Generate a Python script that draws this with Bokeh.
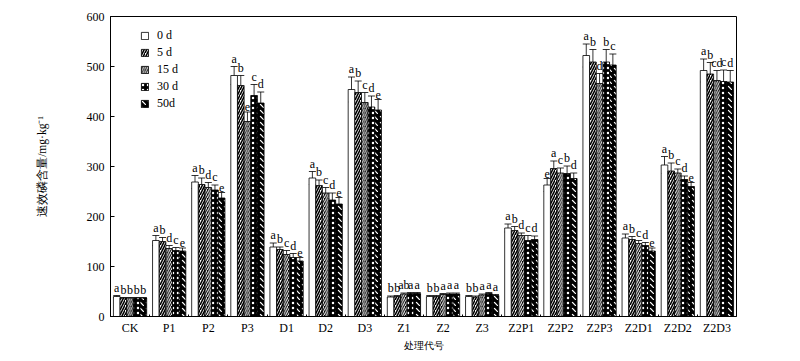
import numpy as np
from bokeh.plotting import figure
from bokeh.models import ColumnDataSource, Whisker, TeeHead, FixedTicker, Range1d
from bokeh.core.properties import value
from bokeh.embed import file_html
from bokeh.resources import INLINE

categories = ["CK", "P1", "P2", "P3", "D1", "D2", "D3", "Z1", "Z2", "Z3",
              "Z2P1", "Z2P2", "Z2P3", "Z2D1", "Z2D2", "Z2D3"]
series = ["0 d", "5 d", "15 d", "30 d", "50d"]

v_0d = [40, 152, 269, 482, 139, 277, 454, 39, 40, 40, 177, 263, 522, 157, 303, 492]
v_5d = [37, 150, 264, 462, 134, 262, 448, 40, 40, 39, 172, 296, 509, 154, 291, 485]
v_15d = [37, 136, 258, 390, 124, 247, 428, 45, 44, 43, 162, 287, 466, 146, 287, 472]
v_30d = [37, 132, 253, 442, 118, 233, 419, 46, 45, 46, 152, 286, 509, 142, 274, 470]
v_50d = [37, 131, 237, 427, 111, 225, 413, 46, 45, 42, 154, 276, 503, 131, 260, 469]

e_0d = [2, 10, 13, 18, 8, 13, 25, 2, 2, 2, 8, 13, 23, 8, 17, 23]
e_5d = [1, 8, 13, 20, 5, 11, 23, 2, 2, 2, 8, 15, 25, 6, 16, 23]
e_15d = [1, 6, 10, 19, 8, 11, 20, 2, 2, 2, 5, 10, 20, 6, 8, 20]
e_30d = [1, 6, 10, 22, 8, 14, 22, 2, 2, 2, 10, 15, 25, 6, 7, 23]
e_50d = [1, 6, 11, 22, 7, 13, 21, 2, 2, 2, 7, 11, 22, 6, 8, 23]

l_0d = ["a", "a", "a", "a", "a", "a", "a", "b", "b", "b", "a", "e", "a", "a", "a", "a"]
l_5d = ["b", "b", "b", "b", "b", "b", "b", "b", "b", "b", "b", "a", "b", "b", "b", "b"]
l_15d = ["b", "d", "d", "e", "c", "c", "c", "ab", "a", "a", "d", "c", "d", "c", "c", "cd"]
l_30d = ["b", "c", "c", "c", "d", "d", "d", "a", "a", "a", "c", "b", "b", "d", "d", "c"]
l_50d = ["b", "e", "e", "d", "e", "e", "e", "a", "a", "a", "d", "d", "c", "e", "e", "d"]

y_ticks = [0, 100, 200, 300, 400, 500, 600]

values = [v_0d, v_5d, v_15d, v_30d, v_50d]
errors = [e_0d, e_5d, e_15d, e_30d, e_50d]
letters = [l_0d, l_5d, l_15d, l_30d, l_50d]

styles = [
    dict(fill_color="white", hatch_pattern=None),
    dict(fill_color="white", hatch_pattern="right_diagonal_line", hatch_color="black", hatch_weight=1.6, hatch_scale=5),
    dict(fill_color="black", hatch_pattern="right_diagonal_line", hatch_color="white", hatch_weight=1.0, hatch_scale=4.5),
    dict(fill_color="black", hatch_pattern="dot", hatch_color="white", hatch_weight=1, hatch_scale=5),
    dict(fill_color="black", hatch_pattern="left_diagonal_dash", hatch_color="white", hatch_weight=1.2, hatch_scale=6),
]

SERIF = "Liberation Serif"
bw = 0.17
n = len(categories)
idx = np.arange(n)

p = figure(width=792, height=353, output_backend="svg", toolbar_location=None,
           x_range=Range1d(-0.5, n - 0.5), y_range=Range1d(0, 600),
           min_border_left=110, min_border_right=56, min_border_top=16, min_border_bottom=30)
p.grid.visible = False
p.outline_line_color = "black"
p.outline_line_width = 1
p.background_fill_color = "white"
p.border_fill_color = "white"

for k, name in enumerate(series):
    xs = idx + (k - 2) * bw
    vals = np.array(values[k], dtype=float)
    errs = np.array(errors[k], dtype=float)
    src = ColumnDataSource(dict(x=xs, top=vals, upper=vals + errs, lower=vals - errs,
                                lab=letters[k]))
    st = styles[k]
    kw = dict(x="x", top="top", width=bw, bottom=0, source=src, line_color="black",
              line_width=0.8, fill_color=st["fill_color"], legend_label=name)
    if st["hatch_pattern"]:
        kw.update(hatch_pattern=st["hatch_pattern"], hatch_color=st["hatch_color"],
                  hatch_weight=st["hatch_weight"], hatch_scale=st["hatch_scale"])
    p.vbar(**kw)
    w = Whisker(base="x", upper="upper", lower="lower", source=src, line_color="black",
                line_width=0.8,
                upper_head=TeeHead(size=7, line_color="black", line_width=0.8),
                lower_head=TeeHead(size=7, line_color="black", line_width=0.8))
    p.add_layout(w)
    p.text(x="x", y="upper", text="lab", source=src, text_align="center",
           text_baseline="bottom", text_font=value(SERIF), text_font_size="12px",
           text_color="black", y_offset=-1)

# axes
xt = FixedTicker(ticks=list(range(n)), minor_ticks=[i + 0.5 for i in range(n - 1)])
p.xaxis.ticker = xt
p.xaxis.major_label_overrides = {i: c for i, c in enumerate(categories)}
p.xaxis.major_tick_line_color = None
p.xaxis.major_tick_in = 0
p.xaxis.major_tick_out = 0
p.xaxis.minor_tick_in = 2
p.xaxis.minor_tick_out = 0
p.xaxis.axis_label = "处理代号"
p.yaxis.ticker = FixedTicker(ticks=y_ticks)
p.yaxis.minor_tick_line_color = None
p.yaxis.major_tick_in = 4
p.yaxis.major_tick_out = 0
p.yaxis.axis_label = "速效磷含量/mg·kg⁻¹"
for ax in (p.xaxis[0], p.yaxis[0]):
    ax.major_label_text_font = SERIF
    ax.major_label_text_font_size = "12px"
    ax.major_label_text_color = "black"
    ax.axis_label_text_font = SERIF
    ax.axis_label_text_font_style = "normal"
    ax.axis_label_text_color = "black"
    ax.axis_line_color = "black"
p.xaxis.axis_label_text_font_size = "10px"
p.yaxis.axis_label_text_font_size = "11.5px"
p.xaxis.major_label_standoff = 4
p.xaxis.axis_label_standoff = 2
p.yaxis.major_label_standoff = 6
p.yaxis.axis_label_standoff = 36

lg = p.legend[0]
lg.location = (30, 205)
lg.border_line_color = None
lg.background_fill_alpha = 0
lg.padding = 3
lg.margin = 0
lg.spacing = 2
lg.label_height = 13
lg.glyph_width = 9
lg.glyph_height = 9
lg.label_standoff = 8
lg.label_text_font = SERIF
lg.label_text_font_size = "12px"
lg.label_text_color = "black"

open("out.html", "w").write(file_html(p, INLINE))
